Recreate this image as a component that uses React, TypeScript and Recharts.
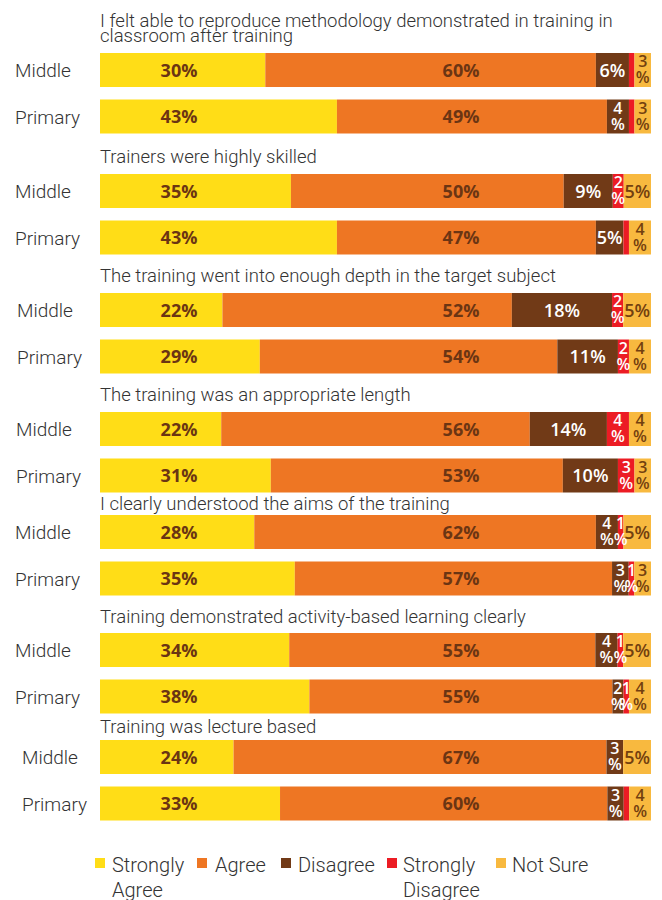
import { BarChart, Bar, XAxis, YAxis, LabelList } from "recharts";

const questions = [
  ["I felt able to reproduce methodology demonstrated in training in", "classroom after training"],
  ["Trainers were highly skilled"],
  ["The training went into enough depth in the target subject"],
  ["The training was an appropriate length"],
  ["I clearly understood the aims of the training"],
  ["Training demonstrated activity-based learning clearly"],
  ["Training was lecture based"],
];

const schools = ["Middle", "Primary"];

// [Middle, Primary] per question
const stronglyAgree = [[30, 43], [35, 43], [22, 29], [22, 31], [28, 35], [34, 38], [24, 33]];
const agree = [[60, 49], [50, 47], [52, 54], [56, 53], [62, 57], [55, 55], [67, 60]];
const disagree = [[6, 4], [9, 5], [18, 11], [14, 10], [4, 3], [4, 2], [3, 3]];
const stronglyDisagree = [[1, 1], [2, 1], [2, 2], [4, 3], [1, 1], [1, 1], [0, 1]];
const notSure = [[3, 3], [5, 4], [5, 4], [4, 3], [5, 3], [5, 4], [5, 4]];
// some 1% slivers carry no label in the original
const sdLabelShown = [[false, false], [true, false], [true, true], [true, true], [true, true], [true, true], [false, true]];

const legendItems = [
  { name: ["Strongly", "Agree"], color: "#FFDD17" },
  { name: ["Agree"], color: "#EE7623" },
  { name: ["Disagree"], color: "#713A17" },
  { name: ["Strongly", "Disagree"], color: "#EC1C24" },
  { name: ["Not Sure"], color: "#F8B93F" },
];

const FONT = "Roboto, 'Open Sans', sans-serif";
const LABEL_FONT = "'Open Sans', Roboto, sans-serif";
const DARK = "#6B3513";

// layout
const chartTops = [46.75, 167.75, 287, 405.5, 508.75, 627, 733.75];
const titleBaselines = [[26.5, 41.5], [163], [282], [401], [509.5], [623], [733]];
const tickX = [15, 15, 17, 16, 15, 15, 22];
const legendSquareX = [95, 197, 281, 387, 496];
const legendTextX = [112, 215, 298, 403, 512];

function makeLabel(color: string, weight: number, fixedX?: number, shown?: boolean[]) {
  return (props: any) => {
    const { x, y, width, height, value, index } = props;
    if (!value) return null;
    if (shown && !shown[index]) return null;
    const cx = fixedX ?? Number(x) + Number(width) / 2;
    const cy = Number(y) + Number(height) / 2;
    if (value < 5) {
      return (
        <text textAnchor="middle" fill={color} style={{ fontFamily: LABEL_FONT, fontSize: 16, fontWeight: weight }}>
          <tspan x={cx} y={cy - 3}>{value}</tspan>
          <tspan x={cx} y={cy + 13}>%</tspan>
        </text>
      );
    }
    return (
      <text x={cx} y={cy + 6.5} textAnchor="middle" fill={color} style={{ fontFamily: LABEL_FONT, fontSize: 18, fontWeight: weight }}>
        {value}%
      </text>
    );
  };
}

function Group({ g }: { g: number }) {
  const data = schools.map((s, j) => ({
    school: s,
    sa: stronglyAgree[g][j],
    a: agree[g][j],
    d: disagree[g][j],
    sd: stronglyDisagree[g][j],
    ns: notSure[g][j],
  }));
  const tick = (p: any) => (
    <text x={tickX[g]} y={p.y + 7} fill="#333" style={{ fontFamily: FONT, fontSize: 19, fontWeight: 300 }}>
      {p.payload.value}
    </text>
  );
  return (
    <div style={{ position: "absolute", left: 0, top: chartTops[g] }}>
      <BarChart width={662} height={93} data={data} layout="vertical" stackOffset="expand" barSize={34}
        margin={{ top: 0, right: 11, left: 0, bottom: 0 }}>
        <XAxis type="number" hide domain={[0, 1]} />
        <YAxis type="category" dataKey="school" width={100} axisLine={false} tickLine={false} tick={tick} />
        <Bar dataKey="sa" stackId="s" fill="#FFDD17" isAnimationActive={false}>
          <LabelList dataKey="sa" content={makeLabel(DARK, 700, 179)} />
        </Bar>
        <Bar dataKey="a" stackId="s" fill="#EE7623" isAnimationActive={false}>
          <LabelList dataKey="a" content={makeLabel(DARK, 700, 461)} />
        </Bar>
        <Bar dataKey="d" stackId="s" fill="#713A17" isAnimationActive={false}>
          <LabelList dataKey="d" content={makeLabel("#fff", 600)} />
        </Bar>
        <Bar dataKey="sd" stackId="s" fill="#EC1C24" isAnimationActive={false}>
          <LabelList dataKey="sd" content={makeLabel("#fff", 600, undefined, sdLabelShown[g])} />
        </Bar>
        <Bar dataKey="ns" stackId="s" fill="#F8B93F" isAnimationActive={false}>
          <LabelList dataKey="ns" content={makeLabel("#73400F", 600)} />
        </Bar>
      </BarChart>
    </div>
  );
}

export default function App() {
  return (
    <div style={{ position: "absolute", left: 0, top: 0, width: 662, height: 900, background: "#fff" }}>
      <svg width={662} height={900} style={{ position: "absolute", left: 0, top: 0 }}>
        {questions.map((lines, g) =>
          lines.map((line, k) => (
            <text key={`${g}-${k}`} x={100} y={titleBaselines[g][k]} fill="#333"
              style={{ fontFamily: FONT, fontSize: 18.5, fontWeight: 300 }}>
              {line}
            </text>
          ))
        )}
        {legendItems.map((item, i) => (
          <g key={i}>
            <rect x={legendSquareX[i]} y={858} width={10} height={10} fill={item.color} />
            <text fill="#333" style={{ fontFamily: FONT, fontSize: 20, fontWeight: 300 }}>
              {item.name.map((t, k) => (
                <tspan key={k} x={legendTextX[i]} y={871.5 + k * 25}>{t}</tspan>
              ))}
            </text>
          </g>
        ))}
      </svg>
      {questions.map((_, g) => (
        <Group key={g} g={g} />
      ))}
    </div>
  );
}
